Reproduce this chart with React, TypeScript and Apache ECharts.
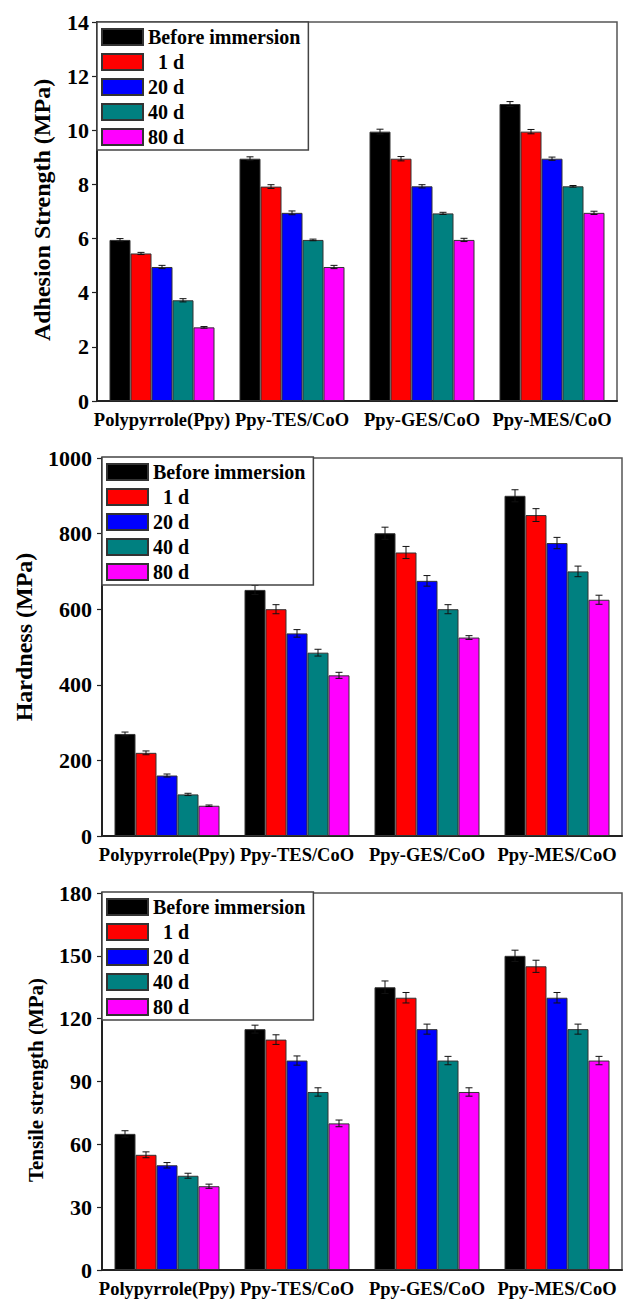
import { useEffect, useRef } from 'react';
import * as echarts from 'echarts';

const categories = ['Polypyrrole(Ppy)', 'Ppy-TES/CoO', 'Ppy-GES/CoO', 'Ppy-MES/CoO'];
const seriesNames = ['Before immersion', '\u00a0\u00a01 d', '20 d', '40 d', '80 d'];
const seriesColors = ['#000000', '#ff0000', '#0000ff', '#008080', '#ff00ff'];

// Adhesion strength (MPa): one row per series, one value per category
const adhesionMeans = [
  [5.95, 8.95, 9.95, 10.97],
  [5.45, 7.92, 8.95, 9.95],
  [4.95, 6.95, 7.93, 8.95],
  [3.72, 5.95, 6.93, 7.93],
  [2.72, 4.95, 5.95, 6.95],
];
const adhesionErrors = [
  [0.05, 0.07, 0.09, 0.09],
  [0.04, 0.07, 0.08, 0.08],
  [0.06, 0.07, 0.06, 0.06],
  [0.06, 0.03, 0.04, 0.03],
  [0.03, 0.06, 0.06, 0.06],
];
const adhesionTicks = [0, 2, 4, 6, 8, 10, 12, 14];

// Hardness (MPa)
const hardnessMeans = [
  [270, 651, 801, 900],
  [220, 600, 750, 849],
  [160, 536, 675, 775],
  [110, 485, 600, 700],
  [80, 425, 525, 625],
];
const hardnessErrors = [
  [5, 12, 16, 16],
  [5, 12, 16, 17],
  [4, 10, 14, 15],
  [3, 9, 12, 14],
  [2, 8, 5, 12],
];
const hardnessTicks = [0, 200, 400, 600, 800, 1000];

// Tensile strength (MPa)
const tensileMeans = [
  [65, 115, 135, 150],
  [55, 110, 130, 145],
  [50, 100, 115, 130],
  [45, 85, 100, 115],
  [40, 70, 85, 100],
];
const tensileErrors = [
  [1.5, 1.9, 3.0, 2.7],
  [1.4, 2.3, 2.5, 2.9],
  [1.3, 2.2, 2.4, 2.5],
  [1.2, 2.0, 2.0, 2.4],
  [1.0, 1.6, 2.0, 2.0],
];
const tensileTicks = [0, 30, 60, 90, 120, 150, 180];

const FONT = '"Liberation Serif", "Times New Roman", serif';
const BAR_W = 21;

const grids = [
  { left: 97, top: 22, width: 520, height: 379 },
  { left: 102, top: 458, width: 520, height: 378 },
  { left: 102, top: 893, width: 520, height: 377 },
];
const labelMargins = [8, 10, 10];
const legendPos = [
  { left: 97, top: 22 },
  { left: 102, top: 457 },
  { left: 102, top: 892 },
];
const yNames = [
  { text: 'Adhesion Strength (MPa)', x: 42, y: 210, size: 24 },
  { text: 'Hardness (MPa)', x: 24, y: 637, size: 24 },
  { text: 'Tensile strength (MPa)', x: 36, y: 1080, size: 21 },
];

const charts = [
  { means: adhesionMeans, errors: adhesionErrors, ticks: adhesionTicks },
  { means: hardnessMeans, errors: hardnessErrors, ticks: hardnessTicks },
  { means: tensileMeans, errors: tensileErrors, ticks: tensileTicks },
];

function errorSeries(means: number[][], errs: number[][], idx: number) {
  const data: number[][] = [];
  means.forEach((row, k) => row.forEach((v, i) => data.push([i, v, errs[k][i], k])));
  return {
    type: 'custom',
    xAxisIndex: idx,
    yAxisIndex: idx,
    z: 5,
    silent: true,
    encode: { x: 0, y: 1 },
    data,
    renderItem: (_params: any, api: any) => {
      const i = api.value(0);
      const v = api.value(1);
      const e = api.value(2);
      const k = api.value(3);
      const c = api.coord([i, v]);
      const cx = c[0] + (k - 2) * BAR_W;
      const top = api.coord([i, v + e])[1];
      const bot = api.coord([i, v - e])[1];
      const cap = 3.5;
      const style = { stroke: '#111', lineWidth: 1 };
      return {
        type: 'group',
        children: [
          { type: 'line', shape: { x1: cx, y1: top, x2: cx, y2: bot }, style },
          { type: 'line', shape: { x1: cx - cap, y1: top, x2: cx + cap, y2: top }, style },
          { type: 'line', shape: { x1: cx - cap, y1: bot, x2: cx + cap, y2: bot }, style },
        ],
      };
    },
  };
}

export default function App() {
  const ref = useRef<HTMLDivElement>(null);
  useEffect(() => {
    if (!ref.current) return;
    const chart = echarts.init(ref.current, undefined, { renderer: 'svg' });
    const series: any[] = [];
    charts.forEach((c, idx) => {
      c.means.forEach((row, k) => {
        series.push({
          name: seriesNames[k],
          type: 'bar',
          xAxisIndex: idx,
          yAxisIndex: idx,
          data: row,
          barWidth: BAR_W,
          barGap: '0%',
          itemStyle: { color: seriesColors[k], borderColor: '#333', borderWidth: 1 },
        });
      });
      series.push(errorSeries(c.means, c.errors, idx));
    });
    const option: any = {
      animation: false,
      backgroundColor: '#ffffff',
      grid: grids.map((g) => ({
        ...g,
        show: true,
        borderColor: '#555',
        borderWidth: 1.5,
        containLabel: false,
      })),
      xAxis: grids.map((_, idx) => ({
        type: 'category',
        gridIndex: idx,
        data: categories,
        axisLine: { lineStyle: { color: '#222', width: 2 } },
        axisTick: { alignWithLabel: true, length: 7, lineStyle: { color: '#222', width: 1.2 } },
        axisLabel: {
          interval: 0,
          margin: 9,
          color: '#000',
          fontFamily: FONT,
          fontWeight: 'bold',
          fontSize: 18.5,
        },
        splitLine: { show: false },
      })),
      yAxis: charts.map((c, idx) => ({
        type: 'value',
        gridIndex: idx,
        min: c.ticks[0],
        max: c.ticks[c.ticks.length - 1],
        interval: c.ticks[1] - c.ticks[0],
        axisLine: { show: true, lineStyle: { color: '#222', width: 2 } },
        axisTick: { show: true, length: 5, lineStyle: { color: '#222', width: 1.2 } },
        axisLabel: {
          margin: labelMargins[idx],
          color: '#000',
          fontFamily: FONT,
          fontWeight: 'bold',
          fontSize: 22,
          formatter: (v: number) => String(v),
        },
        splitLine: { show: false },
      })),
      legend: legendPos.map((p) => ({
        ...p,
        orient: 'vertical',
        data: seriesNames,
        icon: 'rect',
        itemWidth: 41,
        itemHeight: 16,
        itemGap: 5,
        padding: [5, 8, 3, 4],
        borderColor: '#444',
        borderWidth: 1.5,
        backgroundColor: '#ffffff',
        selectedMode: false,
        z: 10,
        textStyle: {
          color: '#000',
          fontFamily: FONT,
          fontWeight: 'bold',
          fontSize: 20,
          lineHeight: 20,
        },
      })),
      graphic: yNames.map((n) => ({
        type: 'text',
        x: n.x,
        y: n.y,
        rotation: Math.PI / 2,
        style: {
          text: n.text,
          fill: '#000',
          font: `bold ${n.size}px ${FONT}`,
          textAlign: 'center',
          textVerticalAlign: 'middle',
          align: 'center',
          verticalAlign: 'middle',
        },
      })),
      series,
    };
    chart.setOption(option);
    return () => chart.dispose();
  }, []);
  return (
    <div
      ref={ref}
      style={{ position: 'fixed', left: 0, top: 0, width: 629, height: 1301, background: '#fff' }}
    />
  );
}
